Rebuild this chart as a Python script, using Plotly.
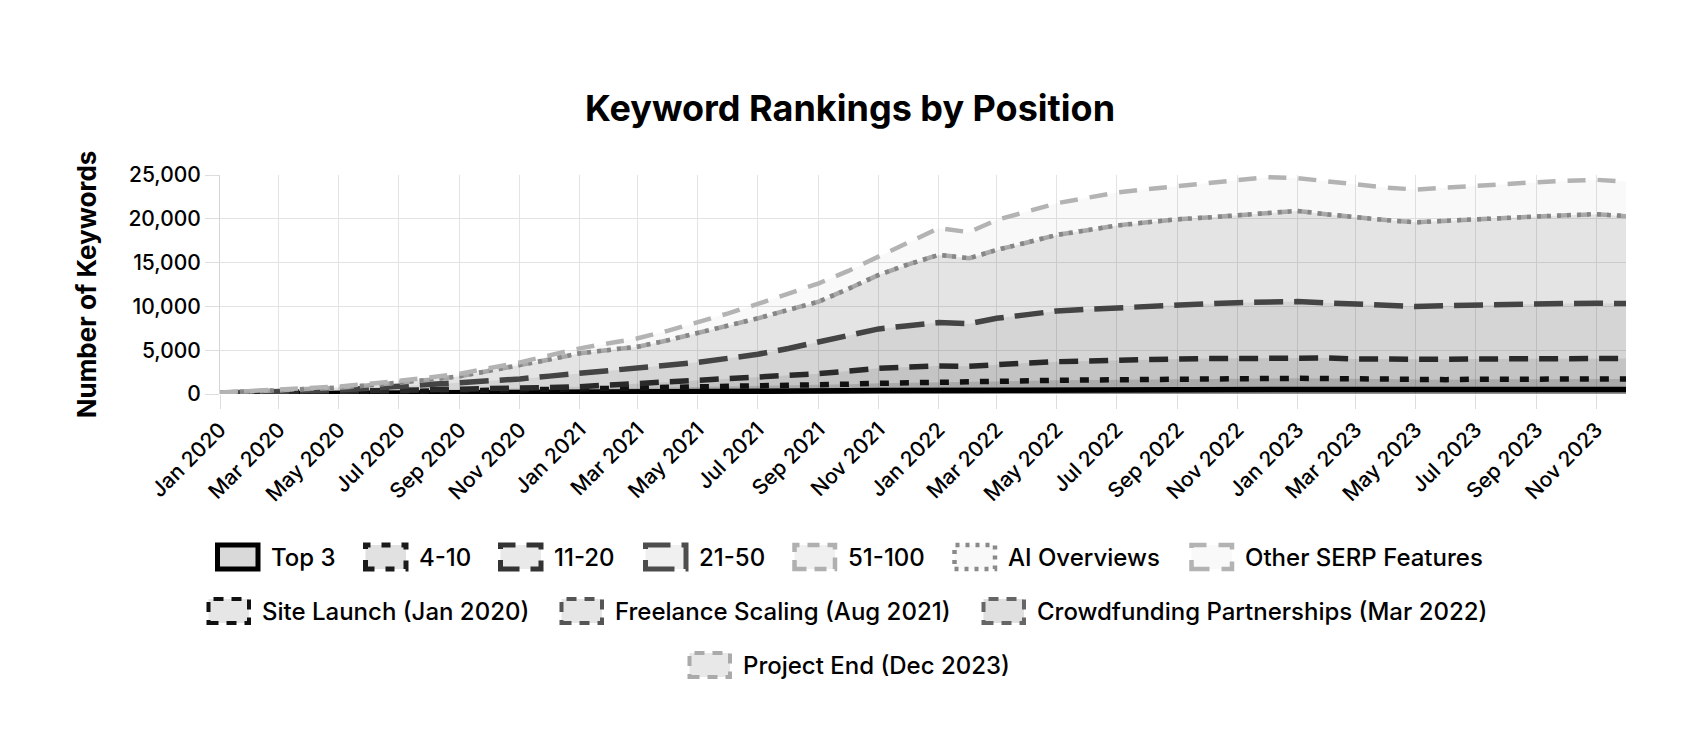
import numpy as np
import pandas as pd
import plotly.graph_objects as go

months = pd.date_range('2020-01-01', '2023-12-01', freq='MS')

top_3 = [10, 20, 30, 45, 60, 75, 90, 110, 130, 145, 160, 175,
         190, 210, 230, 250, 270, 290, 310, 330, 350, 370, 390, 410,
         440, 430, 450, 460, 470, 480, 490, 495, 500, 505, 510, 515,
         520, 515, 510, 505, 500, 505, 510, 512, 515, 518, 520, 520]
pos_4_10 = [20, 40, 70, 95, 120, 155, 190, 210, 230, 275, 310, 345,
            380, 430, 470, 530, 570, 590, 600, 640, 680, 750, 830, 890,
            930, 910, 960, 1020, 1090, 1120, 1150, 1185, 1210, 1225, 1240, 1265,
            1270, 1245, 1190, 1145, 1100, 1135, 1170, 1188, 1195, 1202, 1210, 1200]
pos_11_20 = [30, 50, 70, 85, 100, 110, 120, 135, 150, 170, 190, 220,
             270, 390, 520, 590, 680, 850, 1030, 1160, 1290, 1500, 1710, 1770,
             1830, 1820, 1980, 2060, 2130, 2200, 2280, 2280, 2290, 2310, 2330, 2370,
             2400, 2340, 2300, 2310, 2320, 2320, 2320, 2320, 2330, 2340, 2340, 2340]
pos_21_50 = [40, 70, 110, 150, 200, 320, 450, 600, 760, 910, 1060, 1300,
             1520, 1640, 1710, 1910, 2100, 2350, 2590, 3070, 3580, 4030, 4500, 4730,
             4950, 4870, 5250, 5520, 5790, 5870, 5940, 6060, 6170, 6260, 6350, 6370,
             6360, 6300, 6240, 6140, 6060, 6120, 6170, 6230, 6280, 6280, 6290, 6260]
pos_51_100 = [50, 100, 150, 200, 250, 330, 420, 570, 760, 1130, 1490, 1890,
              2290, 2360, 2470, 2870, 3310, 3700, 4110, 4400, 4650, 5350, 6170, 7000,
              7730, 7470, 7810, 8240, 8680, 9030, 9370, 9580, 9780, 9850, 9940, 10130,
              10350, 10100, 9900, 9750, 9630, 9720, 9820, 9870, 9940, 10060, 10170, 9980]
ai_overviews = [0] * 48
other_serp = [20, 40, 70, 100, 130, 170, 210, 250, 290, 340, 400, 480,
              560, 800, 960, 1090, 1220, 1430, 1640, 1860, 2090, 2050, 2100, 2500,
              3050, 2970, 3430, 3530, 3620, 3700, 3770, 3790, 3810, 3840, 4000, 4100,
              3740, 3760, 3740, 3720, 3730, 3770, 3810, 3910, 3920, 3930, 3920, 3960]

series_names = ['Top 3', '4-10', '11-20', '21-50', '51-100', 'AI Overviews', 'Other SERP Features']
series_values = [top_3, pos_4_10, pos_11_20, pos_21_50, pos_51_100, ai_overviews, other_serp]
line_colors = ['#000000', '#1a1a1a', '#333333', '#4d4d4d', '#b0b0b0', '#8a8a8a', '#b3b3b3']
line_dashes = ['solid', '9px,11px', '19px,11px', '29px,11px', '12px,8px', '4px,6px', '18px,12px']
line_widths = [5.5, 5.5, 5.5, 5.5, 4.5, 4.5, 4.5]
fill_alpha = [0.15, 0.117, 0.088, 0.057, 0.06, 0.025, 0.024]

event_names = ['Site Launch (Jan 2020)', 'Freelance Scaling (Aug 2021)',
               'Crowdfunding Partnerships (Mar 2022)', 'Project End (Dec 2023)']
event_colors = ['#111111', '#555555', '#666666', '#aaaaaa']
event_fills = ['#e6e6e6', '#e6e6e6', '#e0e0e0', '#e8e8e8']

font = 'Inter, Roboto, sans-serif'
W, H = 1684, 752
L, R, T, B = 212, 66, 167, 366

fig = go.Figure()
cum = np.cumsum(np.array(series_values), axis=0)
for i, name in enumerate(series_names):
    fig.add_trace(go.Scatter(
        x=months, y=cum[i], name=name, mode='lines', showlegend=False,
        line=dict(color=line_colors[i], dash=line_dashes[i], width=line_widths[i]),
        fill='tozeroy', fillcolor='rgba(0,0,0,%s)' % fill_alpha[i],
    ))


# legend drawn by hand: boxed swatches like the original
def px_x(px):
    return (px - L) / (W - L - R)


def px_y(py):
    return (H - B - py) / (H - T - B)


legend_items = []
for i, name in enumerate(series_names):
    legend_items.append((name, line_colors[i], line_dashes[i], min(line_widths[i], 5),
                         'rgba(0,0,0,%s)' % fill_alpha[i]))
for name, c, f in zip(event_names, event_colors, event_fills):
    legend_items.append((name, c, '10px,8px', 4, f))

rows_y = [549, 603, 657]
slots = [(0, 207), (0, 355), (0, 490), (0, 635), (0, 784), (0, 944), (0, 1181),
         (1, 198), (1, 551), (1, 973), (2, 679)]

for (name, c, dash, w, fc), (row, left) in zip(legend_items, slots):
    cy = rows_y[row]
    fig.add_shape(type='rect', xref='paper', yref='paper',
                  x0=px_x(left + 2.5), x1=px_x(left + 43),
                  y0=px_y(cy + 12), y1=px_y(cy - 12),
                  line=dict(color=c, dash=dash, width=w), fillcolor=fc, layer='above')
    fig.add_annotation(text=name, xref='paper', yref='paper', x=px_x(left + 54),
                       y=px_y(cy), xanchor='left', yanchor='middle', showarrow=False,
                       font=dict(size=24, weight=500, color='black'))

fig.update_layout(
    width=W, height=H,
    paper_bgcolor='white', plot_bgcolor='white',
    font=dict(family=font, size=21, color='black'),
    title=dict(text='<b>Keyword Rankings by Position</b>', x=0.5, xanchor='center',
               y=0.867, yanchor='middle', font=dict(size=36)),
    margin=dict(l=L, r=R, t=T, b=B, autoexpand=False),
    showlegend=False,
)
fig.update_xaxes(range=['2020-01-01', '2023-12-01'], dtick='M2', tickformat='%b %Y',
                 tickangle=-45, showgrid=True, gridcolor='#e3e3e3', ticks='outside',
                 tickcolor='#dddddd', ticklen=14, showline=False, zeroline=False,
                 tickfont=dict(size=21, weight=500))
fig.update_yaxes(range=[0, 25000], dtick=5000, tickformat=',', showgrid=True,
                 gridcolor='#e3e3e3', ticks='outside', tickcolor='#dddddd', ticklen=14,
                 tickfont=dict(size=21, weight=500),
                 title=dict(text='<b>Number of Keywords</b>', font=dict(size=26), standoff=24),
                 zeroline=False, showline=True, linecolor='#d5d5d5')

fig.write_html('out.html')
